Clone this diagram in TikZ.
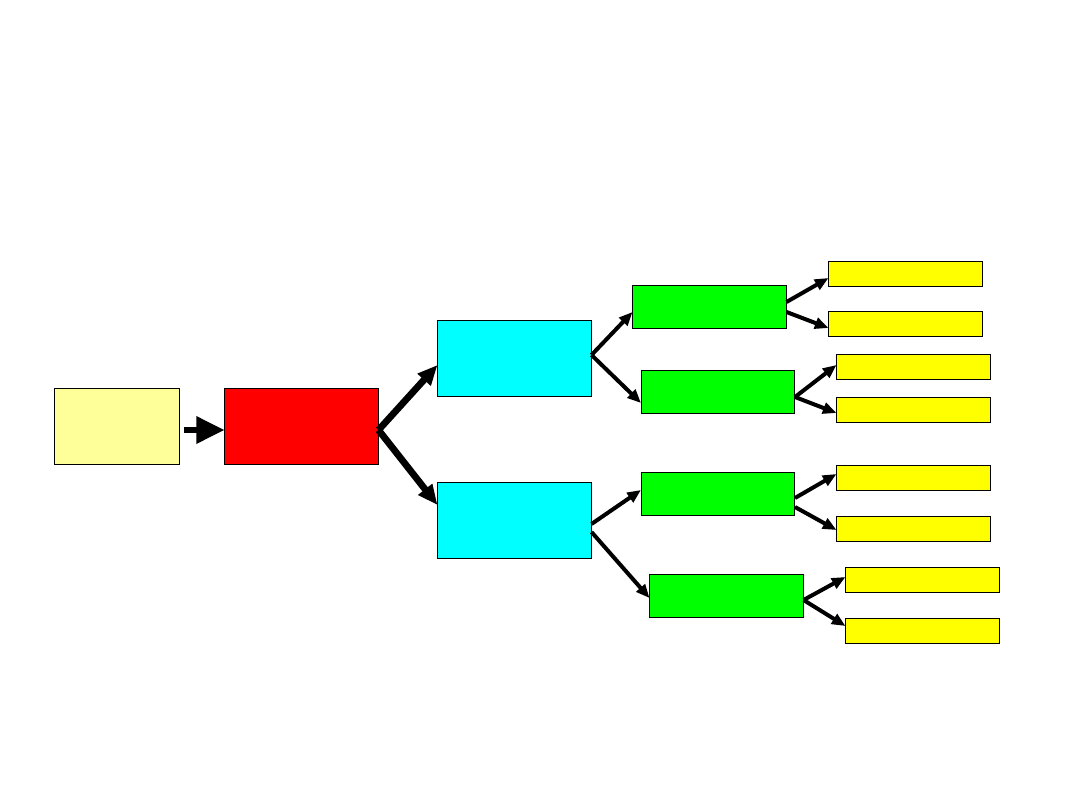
\documentclass[tikz,border=0pt]{standalone}
\usepackage{tikz}
\usepackage{xcolor}
\usetikzlibrary{arrows.meta, calc}
\definecolor{clrStart}{HTML}{FFFF99}
\definecolor{clrRoot}{HTML}{FF0000}
\definecolor{clrMid}{HTML}{00FFFF}
\definecolor{clrLeaf}{HTML}{00FF00}
\definecolor{clrEnd}{HTML}{FFFF00}

\begin{document}
\begin{tikzpicture}[
    x=0.025cm, y=-0.025cm,
    box/.style={rectangle, draw=black, inner sep=0pt, line width=0.7pt},
    bigbox/.style={box, minimum width=3.825cm, minimum height=1.9cm},
    midbox/.style={box, fill=clrLeaf, minimum width=3.825cm, minimum height=1.075cm},
    smallbox/.style={box, fill=clrEnd, minimum width=3.825cm, minimum height=0.625cm},
    fatarrow/.style={-{Triangle[length=0.7cm, width=0.65cm]}, line width=0.15cm},
    wide/.style={-{Triangle[length=0.5cm, width=0.42cm]}, line width=0.17cm},
    arrow/.style={-{Triangle[length=0.34cm, width=0.28cm]}, line width=0.1cm},
]
\useasboundingbox (0,0) rectangle (1080,810);

\node[box, fill=clrStart, minimum width=3.1cm, minimum height=1.9cm] (start) at (117,426) {};
\node[bigbox, fill=clrRoot] (root) at (301.5,426) {};

\node[bigbox, fill=clrMid] (upper) at (514.5,358) {};
\node[bigbox, fill=clrMid] (lower) at (514.5,520) {};

\node[midbox] (g1) at (709.5,306.5) {};
\node[midbox] (g2) at (718,392) {};
\node[midbox] (g3) at (718,494) {};
\node[midbox] (g4) at (726.5,596) {};

\node[smallbox] (y1) at (905.5,273.5) {};
\node[smallbox] (y2) at (905.5,324) {};
\node[smallbox] (y3) at (913.5,366.5) {};
\node[smallbox] (y4) at (913.5,409.5) {};
\node[smallbox] (y5) at (913.5,477.5) {};
\node[smallbox] (y6) at (913.5,528.5) {};
\node[smallbox] (y7) at (922.5,579.5) {};
\node[smallbox] (y8) at (922.5,630.5) {};

% first level
\draw[fatarrow] ($(start.east)+(4,4)$) -- ($(root.west)+(0,4)$);
\draw[wide] ($(root.east)+(0,4)$) -- ($(upper.west)+(0,7)$);
\draw[wide] ($(root.east)+(0,4)$) -- ($(lower.west)+(0,-15)$);

% second level
\draw[arrow] ($(upper.east)+(0,-3)$) -- ($(g1.west)+(0,5.5)$);
\draw[arrow] ($(upper.east)+(0,-3)$) -- ($(g2.west)+(0,11)$);
\draw[arrow] ($(lower.east)+(0,4)$) -- ($(g3.west)+(0,-4)$);
\draw[arrow] ($(lower.east)+(0,12)$) -- ($(g4.west)+(0,2)$);

% leaves
\draw[arrow] ($(g1.east)+(0,-4.5)$) -- ($(y1.west)+(0,4.5)$);
\draw[arrow] ($(g1.east)+(0,5.5)$) -- ($(y2.west)+(0,4)$);
\draw[arrow] ($(g2.east)+(0,5)$) -- ($(y3.west)+(0,-1.5)$);
\draw[arrow] ($(g2.east)+(0,5)$) -- ($(y4.west)+(0,3.5)$);
\draw[arrow] ($(g3.east)+(0,4)$) -- ($(y5.west)+(0,-3.5)$);
\draw[arrow] ($(g3.east)+(0,13)$) -- ($(y6.west)+(0,1.5)$);
\draw[arrow] ($(g4.east)+(0,4)$) -- ($(y7.west)+(0,-2.5)$);
\draw[arrow] ($(g4.east)+(0,4)$) -- ($(y8.west)+(0,-4.5)$);

\end{tikzpicture}
\end{document}
